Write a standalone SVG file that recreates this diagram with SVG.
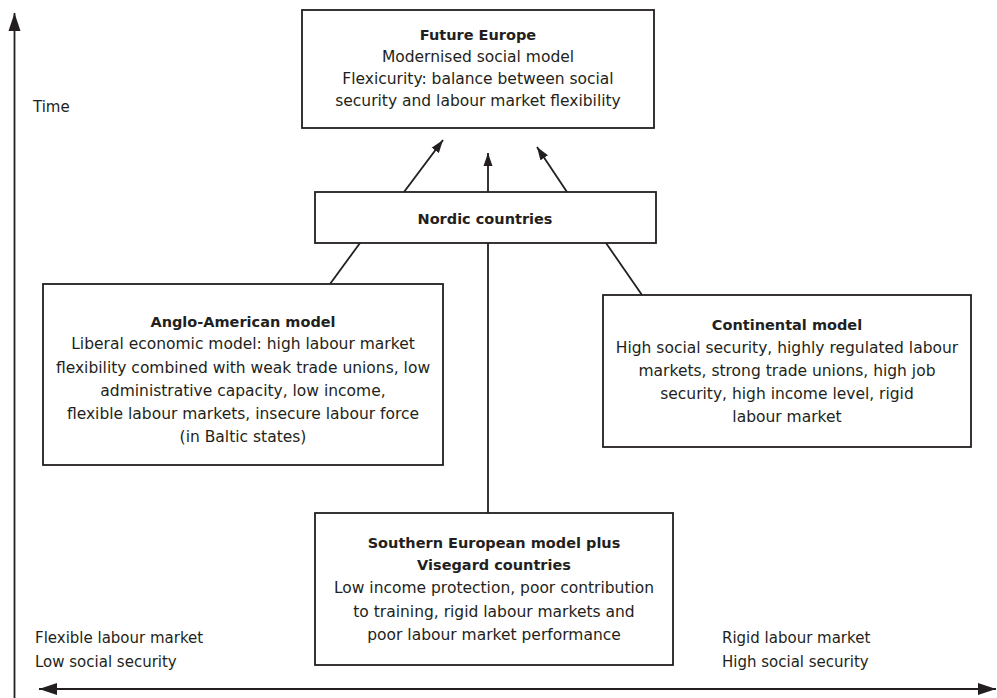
<svg xmlns="http://www.w3.org/2000/svg" width="997" height="698" viewBox="0 0 997 698">
<style>
.box{fill:#fff;stroke:#231f20;stroke-width:1.8}
.ln{fill:none;stroke:#231f20;stroke-width:1.8}
text{font-family:"DejaVu Sans","Liberation Sans",sans-serif;font-size:15.5px;fill:#231f20;text-anchor:middle}
.b{font-weight:bold;font-size:14.5px}
.l{text-anchor:start;font-size:15px}
</style>
<defs>
<marker id="ah" markerUnits="userSpaceOnUse" markerWidth="14" markerHeight="10" refX="13" refY="5" orient="auto">
<path d="M0,0.5 L13,5 L0,9.5 z" fill="#231f20"/>
</marker>
<marker id="ax" markerUnits="userSpaceOnUse" markerWidth="20" markerHeight="14" refX="18" refY="6.5" orient="auto-start-reverse">
<path d="M0,0.5 L18,6.5 L0,12.5 z" fill="#231f20"/>
</marker>
</defs>
<g id="axes">
<line class="ln" x1="14.5" y1="698" x2="14.5" y2="13" marker-end="url(#ax)"/>
<line class="ln" x1="39" y1="689" x2="996" y2="689" marker-start="url(#ax)" marker-end="url(#ax)"/>
<text class="l" x="33" y="112">Time</text>
<text class="l" x="35" y="643">Flexible labour market</text>
<text class="l" x="35" y="667">Low social security</text>
<text class="l" x="722" y="643">Rigid labour market</text>
<text class="l" x="722" y="667">High social security</text>
</g>
<g id="connectors">
<line class="ln" x1="404" y1="192" x2="443" y2="140" marker-end="url(#ah)"/>
<line class="ln" x1="488" y1="192" x2="488" y2="153" marker-end="url(#ah)"/>
<line class="ln" x1="567" y1="192" x2="537" y2="147" marker-end="url(#ah)"/>
<line class="ln" x1="360" y1="243" x2="330" y2="284"/>
<line class="ln" x1="488" y1="243" x2="488" y2="513"/>
<line class="ln" x1="606" y1="243" x2="642" y2="295"/>
</g>
<g id="future-europe">
<rect class="box" x="302" y="10" width="352" height="118"/>
<text class="b" x="478" y="40">Future Europe</text>
<text x="478" y="62">Modernised social model</text>
<text x="478" y="84">Flexicurity: balance between social</text>
<text x="478" y="106">security and labour market flexibility</text>
</g>
<g id="nordic">
<rect class="box" x="315" y="192" width="341" height="51"/>
<text class="b" x="485" y="224">Nordic countries</text>
</g>
<g id="anglo-american">
<rect class="box" x="43" y="284" width="400" height="181"/>
<text class="b" x="243" y="327">Anglo-American model</text>
<text x="243" y="349">Liberal economic model: high labour market</text>
<text x="243" y="373">flexibility combined with weak trade unions, low</text>
<text x="243" y="396">administrative capacity, low income,</text>
<text x="243" y="419">flexible labour markets, insecure labour force</text>
<text x="243" y="442">(in Baltic states)</text>
</g>
<g id="continental">
<rect class="box" x="603" y="295" width="368" height="152"/>
<text class="b" x="787" y="330">Continental model</text>
<text x="787" y="353">High social security, highly regulated labour</text>
<text x="787" y="376">markets, strong trade unions, high job</text>
<text x="787" y="399">security, high income level, rigid</text>
<text x="787" y="422">labour market</text>
</g>
<g id="southern">
<rect class="box" x="315" y="513" width="358" height="152"/>
<text class="b" x="494" y="548">Southern European model plus</text>
<text class="b" x="494" y="570">Visegard countries</text>
<text x="494" y="593">Low income protection, poor contribution</text>
<text x="494" y="617">to training, rigid labour markets and</text>
<text x="494" y="640">poor labour market performance</text>
</g>
</svg>
